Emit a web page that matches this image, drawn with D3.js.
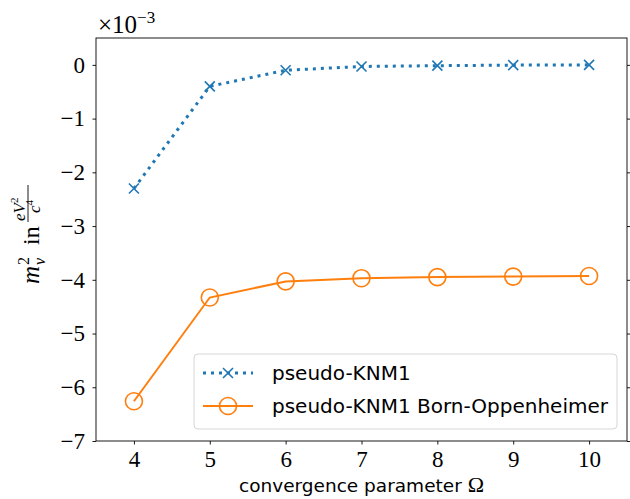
<!DOCTYPE html>
<html>
<head>
<meta charset="utf-8">
<script src="https://cdn.jsdelivr.net/npm/d3@7"></script>
<style>
body { margin: 0; background: #fff; }
</style>
</head>
<body>
<div id="chart"></div>
<script>
// convergence parameter values and the two series (units of 1e-3 eV^2/c^4)
var omega = [4, 5, 6, 7, 8, 9, 10];
var knm1 = [-2.30, -0.40, -0.10, -0.03, -0.015, -0.005, 0.0];
var knm1BO = [-6.26, -4.33, -4.03, -3.97, -3.95, -3.94, -3.93];
var xTicks = [4, 5, 6, 7, 8, 9, 10];
var yTicks = [0, -1, -2, -3, -4, -5, -6, -7];
var seriesNames = ["pseudo-KNM1", "pseudo-KNM1 Born-Oppenheimer"];

var W = 630, H = 499;
// plot area edges (window.top is reserved, so no "top" here)
var plotL = 96, plotR = 627, plotT = 38, plotB = 441;
var serif = "'Liberation Serif', 'DejaVu Serif', serif";
var sans = "'DejaVu Sans', sans-serif";

var svg = d3.select("#chart").append("svg").attr("width", W).attr("height", H);

var x = d3.scaleLinear().domain([3.5, 10.5]).range([plotL, plotR]);
var y = d3.scaleLinear().domain([-7, 0.5]).range([plotB, plotT]);

function styleAxis(g) {
  g.select(".domain").remove();
  g.selectAll("line").attr("stroke", "#000").attr("stroke-width", 0.9);
  g.selectAll("text").style("font-family", serif).style("font-size", "23px").attr("fill", "#000");
}

svg.append("g")
.attr("transform", "translate(0," + plotB + ")")
.call(d3.axisBottom(x).tickValues(xTicks).tickSize(3.5).tickPadding(6.5).tickFormat(d3.format("d")))
.call(styleAxis);

svg.append("g")
.attr("transform", "translate(" + plotL + ",0)")
.call(d3.axisLeft(y).tickValues(yTicks).tickSize(3.5).tickPadding(7.5).tickFormat(d3.format("d")))
.call(styleAxis);

svg.append("g")
.attr("transform", "translate(" + plotR + ",0)")
.call(d3.axisRight(y).tickValues(yTicks).tickSize(3.5).tickFormat(""))
.call(styleAxis);

svg.append("rect")
.attr("x", plotL).attr("y", plotT)
.attr("width", plotR - plotL).attr("height", plotB - plotT)
.attr("fill", "none").attr("stroke", "#000").attr("stroke-width", 0.9);

// multiplier
var mult = svg.append("text").attr("x", 98).attr("y", 33)
.style("font-family", serif).style("font-size", "25px").attr("fill", "#000");
mult.append("tspan").text("×10");
mult.append("tspan").attr("dy", -10).style("font-size", "17px").text("−3");

// lines
var line = d3.line().x(function(d, i) { return x(omega[i]); }).y(function(d) { return y(d); });

svg.append("path").datum(knm1)
.attr("d", line)
.attr("fill", "none").attr("stroke", "#1f77b4")
.attr("stroke-width", 3).attr("stroke-dasharray", "3,5");

svg.append("path").datum(knm1BO)
.attr("d", line)
.attr("fill", "none").attr("stroke", "#ff7f0e").attr("stroke-width", 2);

function cross(g, cx, cy) {
  var s = 5;
  g.append("path")
  .attr("d", "M" + (cx - s) + "," + (cy - s) + "L" + (cx + s) + "," + (cy + s) + "M" + (cx - s) + "," + (cy + s) + "L" + (cx + s) + "," + (cy - s))
  .attr("stroke", "#1f77b4").attr("stroke-width", 1.6).attr("fill", "none");
}

var marks = svg.append("g");
knm1.forEach(function(d, i) { cross(marks, x(omega[i]), y(d)); });

svg.append("g").selectAll("circle")
.data(knm1BO)
.enter().append("circle")
.attr("cx", function(d, i) { return x(omega[i]); })
.attr("cy", function(d) { return y(d); })
.attr("r", 8.5)
.attr("fill", "none").attr("stroke", "#ff7f0e").attr("stroke-width", 1.6);

// x label
var xl = svg.append("text").attr("x", (plotL + plotR) / 2).attr("y", 492)
.attr("text-anchor", "middle").attr("fill", "#000")
.style("font-family", sans).style("font-size", "18.5px");
xl.append("tspan").text("convergence parameter ");
xl.append("tspan").style("font-family", serif).style("font-size", "22px").text("Ω");

// y label, built in a rotated group
var yl = svg.append("g").attr("transform", "translate(39,284) rotate(-90)");
yl.append("text").attr("x", 0).attr("y", 0)
.style("font-family", serif).style("font-style", "italic").style("font-size", "25px").text("m");
yl.append("text").attr("x", 19).attr("y", -10)
.style("font-family", serif).style("font-size", "16px").text("2");
yl.append("text").attr("x", 19).attr("y", 6)
.style("font-family", serif).style("font-style", "italic").style("font-size", "16px").text("ν");
yl.append("text").attr("x", 39).attr("y", 0)
.style("font-family", serif).style("font-size", "24px").text("in");
var num = yl.append("text").attr("x", 63).attr("y", -14.5)
.style("font-family", serif).style("font-size", "17px");
num.append("tspan").style("font-style", "italic").text("eV");
num.append("tspan").attr("dy", -7).style("font-size", "11px").text("2");
yl.append("line").attr("x1", 62).attr("x2", 99).attr("y1", -11).attr("y2", -11)
.attr("stroke", "#000").attr("stroke-width", 0.9);
var den = yl.append("text").attr("x", 71).attr("y", 1)
.style("font-family", serif).style("font-size", "17px");
den.append("tspan").style("font-style", "italic").text("c");
den.append("tspan").attr("dy", -7).style("font-size", "11px").text("4");

// legend
var lg = svg.append("g");
lg.append("rect").attr("x", 194).attr("y", 354).attr("width", 423).attr("height", 75)
.attr("rx", 4).attr("fill", "#fff").attr("fill-opacity", 0.8)
.attr("stroke", "#d6d6d6").attr("stroke-width", 1);
var rows = [373, 406];
lg.append("line").attr("x1", 203).attr("x2", 253).attr("y1", rows[0]).attr("y2", rows[0])
.attr("stroke", "#1f77b4").attr("stroke-width", 3).attr("stroke-dasharray", "3,5");
cross(lg, 228, rows[0]);
lg.append("line").attr("x1", 203).attr("x2", 253).attr("y1", rows[1]).attr("y2", rows[1])
.attr("stroke", "#ff7f0e").attr("stroke-width", 2);
lg.append("circle").attr("cx", 228).attr("cy", rows[1]).attr("r", 8.5)
.attr("fill", "none").attr("stroke", "#ff7f0e").attr("stroke-width", 1.6);
lg.selectAll(".lt").data(seriesNames).enter().append("text")
.attr("x", 272).attr("y", function(d, i) { return rows[i] + 7; })
.style("font-family", sans).style("font-size", "20px").attr("fill", "#000")
.text(function(d) { return d; });
</script>
</body>
</html>
